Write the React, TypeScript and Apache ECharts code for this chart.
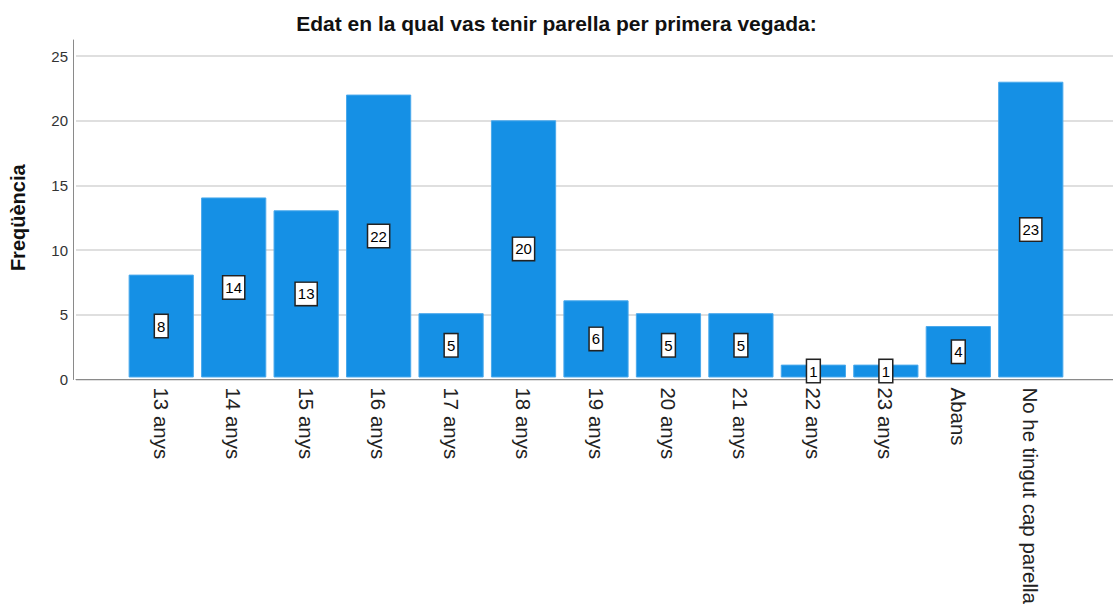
import React, { useEffect, useRef } from "react";
import * as echarts from "echarts";

const categories = [
  "13 anys", "14 anys", "15 anys", "16 anys", "17 anys", "18 anys", "19 anys",
  "20 anys", "21 anys", "22 anys", "23 anys", "Abans", "No he tingut cap parella",
];
const values = [8, 14, 13, 22, 5, 20, 6, 5, 5, 1, 1, 4, 23];
const yMax = 25;
const yAxisTop = 26.24;
const yInterval = 5;
const title = "Edat en la qual vas tenir parella per primera vegada:";
const yName = "Freqüència";

const FONT = "Liberation Sans, Arial, sans-serif";

export default function App() {
  const ref = useRef<HTMLDivElement>(null);
  useEffect(() => {
    if (!ref.current) return;
    const chart = echarts.init(ref.current, undefined, { renderer: "svg" });
    const bottom = 227.5;
    chart.setOption({
      animation: false,
      backgroundColor: "#ffffff",
      textStyle: { fontFamily: FONT },
      title: {
        text: title,
        left: "center",
        top: 8,
        textStyle: { fontSize: 21, fontWeight: "bold", color: "#111", fontFamily: FONT },
      },
      grid: [
        { left: 73, right: 0, top: 56, bottom },
        { left: 73, right: 0, top: 40, bottom },
        { left: 125, right: 46, top: 56, bottom },
      ],
      xAxis: [
        {
          gridIndex: 0, type: "value", min: 0, max: 1,
          axisLine: { show: true, onZero: false, lineStyle: { color: "#8a8a8a", width: 1 } },
          axisTick: { show: false }, axisLabel: { show: false }, splitLine: { show: false },
        },
        { gridIndex: 1, type: "value", min: 0, max: 1, show: false },
        {
          gridIndex: 2, type: "category", data: categories,
          axisLine: { show: false }, axisTick: { show: false },
          axisLabel: { rotate: -90, fontSize: 20.5, color: "#222", margin: 10, interval: 0, fontFamily: FONT },
        },
      ],
      yAxis: [
        {
          gridIndex: 0, type: "value", min: 0, max: yMax, interval: yInterval,
          axisLine: { show: false }, axisTick: { show: false },
          axisLabel: { fontSize: 15, color: "#333", margin: 8, fontFamily: FONT },
          splitLine: { show: true, lineStyle: { color: "#d4d4d4", width: 1.5 } },
          name: yName, nameLocation: "middle", nameGap: 48, nameRotate: 90,
          nameTextStyle: { fontSize: 20, fontWeight: "bold", color: "#111", fontFamily: FONT },
        },
        {
          gridIndex: 1, type: "value", min: 0, max: yAxisTop,
          axisLine: { show: true, lineStyle: { color: "#8a8a8a", width: 1 } },
          axisTick: { show: false }, axisLabel: { show: false }, splitLine: { show: false },
        },
        { gridIndex: 2, type: "value", min: 0, max: yMax, show: false },
      ],
      series: [
        {
          type: "bar",
          xAxisIndex: 2,
          yAxisIndex: 2,
          data: values,
          barCategoryGap: "10%",
          itemStyle: { color: "#1590e5", borderColor: "#4aa9ec", borderWidth: 1 },
          label: {
            show: true,
            position: "inside",
            color: "#000",
            fontSize: 15,
            fontFamily: FONT,
            backgroundColor: "#ffffff",
            borderColor: "#222",
            borderWidth: 1.5,
            padding: [4, 2, 3, 2],
          },
        },
      ],
    });
    return () => chart.dispose();
  }, []);
  return (
    <div
      ref={ref}
      style={{ position: "fixed", left: 0, top: 0, width: 1113, height: 607 }}
    />
  );
}
